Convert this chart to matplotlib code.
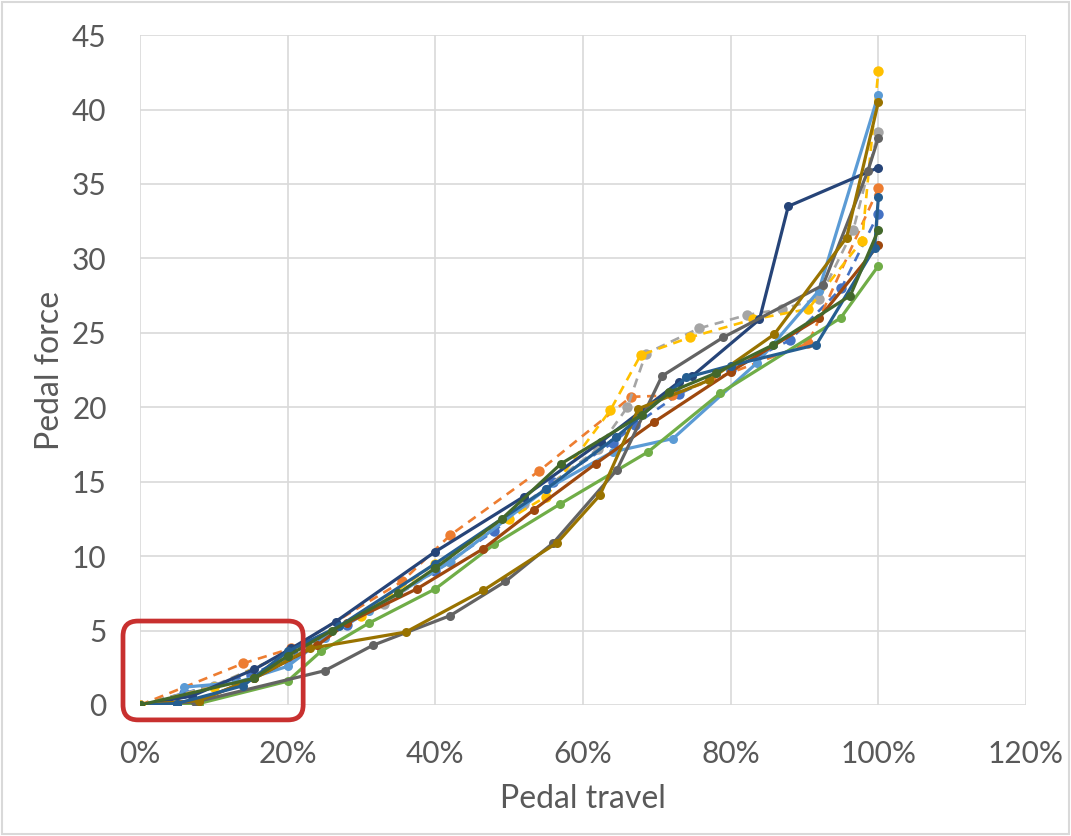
#!/usr/bin/env python3
import matplotlib

matplotlib.use("Agg")
import matplotlib.pyplot as plt
from matplotlib.patches import FancyBboxPatch, Rectangle
from matplotlib.ticker import MultipleLocator, PercentFormatter

# pedal travel (fraction) / pedal force per measurement run
blue_x = [0, 0.06, 0.15, 0.20, 0.28, 0.40, 0.48, 0.56, 0.64, 0.67, 0.73, 0.80, 0.88, 0.95, 1.0]
blue_y = [0, 0.8, 2.0, 3.2, 5.4, 9.0, 11.7, 15.0, 17.6, 18.8, 20.9, 22.5, 24.5, 28.0, 33.0]
orange_x = [0, 0.14, 0.205, 0.355, 0.42, 0.54, 0.665, 0.72, 0.905, 1.0]
orange_y = [0, 2.8, 3.8, 8.3, 11.4, 15.7, 20.7, 20.8, 24.3, 34.7]
gray_x = [0, 0.10, 0.22, 0.33, 0.42, 0.52, 0.62, 0.66, 0.685, 0.757, 0.822, 0.87, 0.92, 0.966, 1.0]
gray_y = [0, 1.3, 3.9, 6.8, 9.6, 13.5, 17.2, 20.0, 23.6, 25.3, 26.2, 26.6, 27.3, 31.9, 38.5]
yellow_x = [0, 0.10, 0.20, 0.30, 0.40, 0.50, 0.55, 0.637, 0.678, 0.745, 0.83, 0.905, 0.978, 1.0]
yellow_y = [0, 1.2, 3.5, 6.0, 9.5, 12.5, 14.0, 19.8, 23.5, 24.7, 25.9, 26.6, 31.2, 42.6]
lblue_x = [0, 0.05, 0.06, 0.13, 0.20, 0.25, 0.31, 0.42, 0.55, 0.64, 0.722, 0.836, 0.919, 1.0]
lblue_y = [0, 0.1, 1.2, 1.5, 2.6, 4.5, 6.3, 9.6, 14.5, 17.0, 17.9, 23.0, 27.8, 41.0]
green_x = [0, 0.08, 0.20, 0.245, 0.31, 0.40, 0.48, 0.569, 0.688, 0.786, 0.949, 1.0]
green_y = [0, 0.1, 1.6, 3.6, 5.5, 7.8, 10.8, 13.5, 17.0, 20.95, 26.0, 29.5]
navy_x = [0, 0.07, 0.155, 0.205, 0.265, 0.40, 0.52, 0.625, 0.73, 0.748, 0.839, 0.878, 1.0]
navy_y = [0, 0.6, 2.4, 3.8, 5.6, 10.3, 14.0, 17.7, 21.7, 22.1, 25.9, 33.5, 36.1]
dorange_x = [0, 0.08, 0.155, 0.24, 0.28, 0.375, 0.465, 0.533, 0.617, 0.696, 0.80, 0.92, 1.0]
dorange_y = [0, 0.3, 1.8, 4.0, 5.5, 7.8, 10.5, 13.1, 16.2, 19.0, 22.4, 26.0, 30.9]
dgray_x = [0, 0.075, 0.25, 0.315, 0.42, 0.495, 0.56, 0.646, 0.707, 0.79, 0.925, 0.986, 1.0]
dgray_y = [0, 0.2, 2.3, 4.0, 6.0, 8.3, 10.9, 15.8, 22.1, 24.7, 28.2, 35.9, 38.1]
olive_x = [0, 0.08, 0.155, 0.23, 0.36, 0.465, 0.565, 0.623, 0.675, 0.77, 0.859, 0.957, 1.0]
olive_y = [0, 0.3, 1.8, 3.8, 4.9, 7.7, 10.9, 14.1, 19.9, 21.8, 24.9, 31.4, 40.5]
blue2_x = [0, 0.05, 0.14, 0.20, 0.27, 0.40, 0.55, 0.645, 0.74, 0.80, 0.916, 0.995, 1.0]
blue2_y = [0, 0.1, 1.3, 3.6, 5.3, 9.5, 14.5, 18.0, 22.0, 22.8, 24.2, 30.7, 34.1]
dgreen_x = [0, 0.155, 0.20, 0.26, 0.35, 0.40, 0.49, 0.57, 0.68, 0.717, 0.78, 0.858, 0.962, 1.0]
dgreen_y = [0, 1.8, 3.3, 5.0, 7.5, 9.2, 12.5, 16.2, 19.5, 21.0, 22.3, 24.2, 27.5, 31.9]

x_ticks = [0, 0.2, 0.4, 0.6, 0.8, 1.0, 1.2]
x_label = "Pedal travel"
y_label = "Pedal force"

series = [
    (blue_x, blue_y, "#4472C4", True),
    (orange_x, orange_y, "#ED7D31", True),
    (gray_x, gray_y, "#A5A5A5", True),
    (yellow_x, yellow_y, "#FFC000", True),
    (lblue_x, lblue_y, "#5B9BD5", False),
    (green_x, green_y, "#70AD47", False),
    (navy_x, navy_y, "#264478", False),
    (dorange_x, dorange_y, "#9E480E", False),
    (dgray_x, dgray_y, "#636363", False),
    (olive_x, olive_y, "#997300", False),
    (blue2_x, blue2_y, "#255E91", False),
    (dgreen_x, dgreen_y, "#43682B", False),
]

plt.rcParams["font.family"] = ["Lato", "DejaVu Sans"]
text_color = "#595959"

fig = plt.figure(figsize=(10.71, 8.36), dpi=100)
ax = fig.add_axes([0.1307, 0.1567, 0.8273, 0.8013])

for xs, ys, color, dashed in series:
    ax.plot(
        xs,
        ys,
        color=color,
        linewidth=1.9 if dashed else 2.3,
        linestyle=(0, (3.5, 2.5)) if dashed else "-",
        marker="o",
        markersize=7.5 if dashed else 6.5,
        markeredgewidth=0,
    )

ax.set_xlim(0, 1.2)
ax.set_ylim(0, 45)
ax.set_xticks(x_ticks)
ax.xaxis.set_major_formatter(PercentFormatter(1.0, decimals=0))
ax.yaxis.set_major_locator(MultipleLocator(5))
ax.grid(True, color="#D9D9D9", linewidth=1.2)
ax.set_axisbelow(True)
for spine in ax.spines.values():
    spine.set_visible(False)
ax.tick_params(length=0, labelsize=21.5, colors=text_color)
ax.tick_params(axis="x", pad=25)
ax.tick_params(axis="y", pad=24)
ax.set_xlabel(x_label, fontsize=23, color=text_color, labelpad=12)
ax.set_ylabel(y_label, fontsize=23, color=text_color, labelpad=5)

# highlight box around the low-travel region (data coords, ~15 px corner radius)
px_x = 1.0 / (ax.get_position().width * fig.bbox.width / 1.2)
px_y = 1.0 / (ax.get_position().height * fig.bbox.height / 45)
box = FancyBboxPatch(
    (-0.023, -1.0),
    0.244,
    6.64,
    boxstyle=f"round,pad=0,rounding_size={15 * px_x}",
    mutation_aspect=px_y / px_x,
    fill=False,
    edgecolor="#C8302F",
    linewidth=3.4,
    clip_on=False,
    zorder=10,
)
ax.add_patch(box)

fig.patches.append(
    Rectangle((0.002, 0.002), 0.996, 0.996, transform=fig.transFigure,
              fill=False, edgecolor="#D9D9D9", linewidth=1.5)
)

fig.savefig("out.png", dpi=100)
